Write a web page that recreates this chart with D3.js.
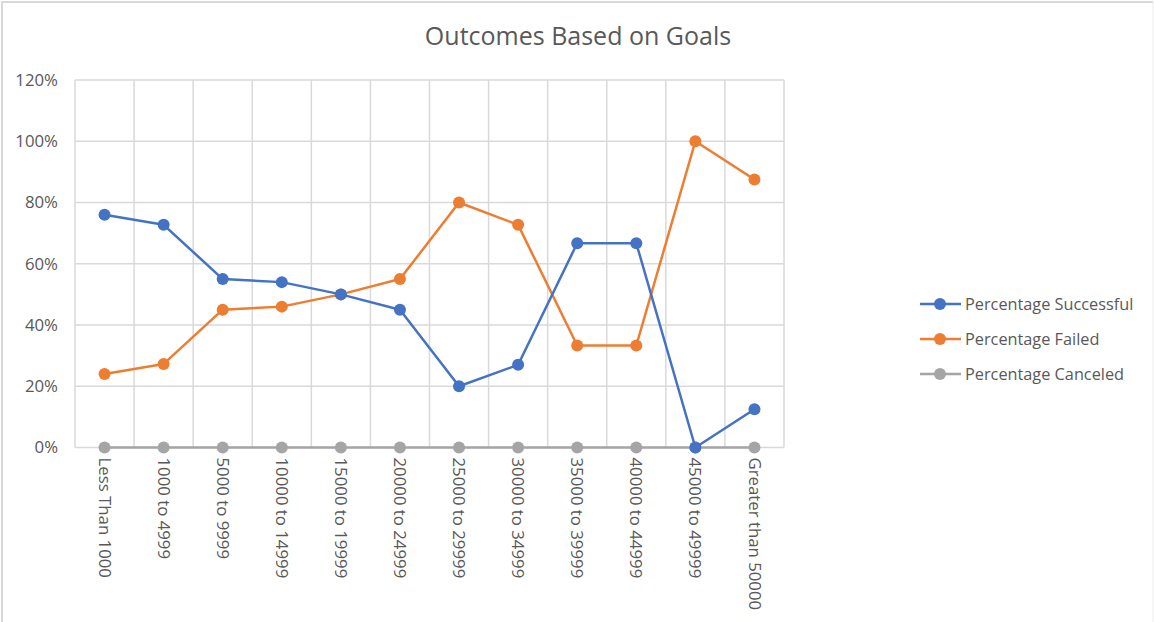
<!DOCTYPE html>
<html><head><meta charset="utf-8">
<script src="https://cdn.jsdelivr.net/npm/d3@7"></script>
<style>body{margin:0;background:#fff;}svg{display:block;font-family:"Open Sans","Liberation Sans",sans-serif;}</style>
</head><body>
<svg id="c" width="1154" height="622"></svg>
<script>
const categories = ["Less Than 1000","1000 to 4999","5000 to 9999","10000 to 14999","15000 to 19999","20000 to 24999","25000 to 29999","30000 to 34999","35000 to 39999","40000 to 44999","45000 to 49999","Greater than 50000"];
const successful = [0.76,0.727,0.55,0.54,0.50,0.45,0.20,0.27,0.667,0.667,0.0,0.125];
const failed = [0.24,0.273,0.45,0.46,0.50,0.55,0.80,0.727,0.333,0.333,1.0,0.875];
const canceled = [0,0,0,0,0,0,0,0,0,0,0,0];
const yTicks = [0,0.2,0.4,0.6,0.8,1.0,1.2];
const seriesNames = ["Percentage Successful","Percentage Failed","Percentage Canceled"];
const colors = ["#4472C4","#ED7D31","#A5A5A5"];

const svg = d3.select("#c");
const L=75,R=784,T=80,B=447.5;
const x = d3.scaleBand().domain(categories).range([L,R]);
const y = d3.scaleLinear().domain([0,1.2]).range([B,T]);

// outer border
svg.append("path").attr("d","M2,622 L2,2 L1153,2").attr("fill","none").attr("stroke","#d9d9d9").attr("stroke-width",2);
svg.append("line").attr("x1",1153).attr("x2",1153).attr("y1",2).attr("y2",622).attr("stroke","#eeeeee").attr("stroke-width",1);

// title
svg.append("text").attr("x",578).attr("y",45).attr("text-anchor","middle").attr("font-size",25).attr("fill","#595959").text("Outcomes Based on Goals");

// grid
const g = svg.append("g");
g.selectAll(".hg").data(yTicks).join("line").attr("x1",L).attr("x2",R).attr("y1",d=>y(d)).attr("y2",d=>y(d)).attr("stroke","#d9d9d9").attr("stroke-width",1.5);
const vx = categories.map(c=>x(c)).concat([R]);
g.selectAll(".vg").data(vx).join("line").attr("x1",d=>d).attr("x2",d=>d).attr("y1",T).attr("y2",B).attr("stroke","#d9d9d9").attr("stroke-width",1.5);

// y axis labels
const yAxis = d3.axisLeft(y).tickValues(yTicks).tickFormat(d=>Math.round(d*100)+"%").tickSize(0).tickPadding(17);
const ya = svg.append("g").attr("transform",`translate(${L},0)`).call(yAxis);
ya.select(".domain").remove();
ya.selectAll("text").attr("font-size",16.8).attr("fill","#595959").attr("font-family","'Open Sans','Liberation Sans',sans-serif");

// x axis labels
const xAxis = d3.axisBottom(x).tickSize(0).tickPadding(0);
const xa = svg.append("g").attr("transform",`translate(0,${B})`).call(xAxis);
xa.select(".domain").remove();
xa.selectAll("text").attr("font-size",16.8).attr("fill","#595959").attr("font-family","'Open Sans','Liberation Sans',sans-serif")
  .attr("transform","rotate(90)").attr("text-anchor","start").attr("x",10).attr("y",0).attr("dy","0.35em");

// series
const data = [successful,failed,canceled];
const line = d3.line().x((d,i)=>x(categories[i])+x.bandwidth()/2).y(d=>y(d));
const order = [2,1,0];
order.forEach(s=>{
  svg.append("path").datum(data[s]).attr("d",line).attr("fill","none").attr("stroke",colors[s]).attr("stroke-width",2.5).attr("stroke-linejoin","round");
  svg.append("g").selectAll("circle").data(data[s]).join("circle")
    .attr("cx",(d,i)=>x(categories[i])+x.bandwidth()/2).attr("cy",d=>y(d)).attr("r",6).attr("fill",colors[s]);
});

// legend
const lg = svg.append("g");
seriesNames.forEach((n,i)=>{
  const yy = 304 + i*35;
  lg.append("line").attr("x1",920).attr("x2",961).attr("y1",yy).attr("y2",yy).attr("stroke",colors[i]).attr("stroke-width",2.5);
  lg.append("circle").attr("cx",940).attr("cy",yy).attr("r",6).attr("fill",colors[i]);
  lg.append("text").attr("x",965).attr("y",yy).attr("dy","0.35em").attr("font-size",16.3).attr("fill","#595959").text(n);
});
</script>
</body></html>
